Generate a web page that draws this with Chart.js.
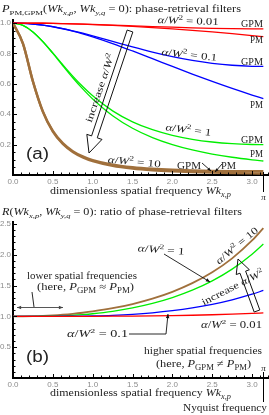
<!DOCTYPE html>
<html>
<head>
<meta charset="utf-8">
<script src="https://cdn.jsdelivr.net/npm/chart.js@4.4.1/dist/chart.umd.min.js"></script>
<style>
html, body { margin: 0; padding: 0; background: #fff; }
#wrap { position: relative; width: 269px; height: 415px; }
#wrap canvas { position: absolute; left: 0; top: 0; }
</style>
</head>
<body>
<div id="wrap">
  <canvas id="chartA" width="269" height="415"></canvas>
  <canvas id="chartB" width="269" height="415"></canvas>
</div>
<script>
// dimensionless spatial frequency W k_x,p (last sample = pi, Nyquist)
const freq = [0, 0.125, 0.25, 0.375, 0.5, 0.625, 0.75, 0.875, 1.0, 1.25, 1.5, 1.75, 2.0, 2.25, 2.5, 2.75, 3.0, 3.1416];

// panel (a): filters
const pm001  = [1, 0.9998, 0.9994, 0.9986, 0.9975, 0.9961, 0.9944, 0.9924, 0.9901, 0.9846, 0.9780, 0.9703, 0.9615, 0.9518, 0.9412, 0.9297, 0.9174, 0.9102];
const gpm001 = [1, 0.9998, 0.9994, 0.9986, 0.9976, 0.9962, 0.9947, 0.9929, 0.9909, 0.9865, 0.9818, 0.9770, 0.9725, 0.9685, 0.9652, 0.9629, 0.9617, 0.9615];
const pm01   = [1, 0.9984, 0.9938, 0.9861, 0.9756, 0.9624, 0.9467, 0.9289, 0.9091, 0.8649, 0.8163, 0.7656, 0.7143, 0.6639, 0.6154, 0.5694, 0.5263, 0.5033];
const gpm01  = [1, 0.9984, 0.9938, 0.9863, 0.9761, 0.9636, 0.9491, 0.9330, 0.9158, 0.8796, 0.8433, 0.8093, 0.7793, 0.7544, 0.7352, 0.7221, 0.7153, 0.7143];
const pm1    = [1, 0.9846, 0.9412, 0.8767, 0.8000, 0.7191, 0.6400, 0.5664, 0.5000, 0.3902, 0.3077, 0.2462, 0.2000, 0.1649, 0.1379, 0.1168, 0.1000, 0.0920];
const gpm1   = [1, 0.9846, 0.9415, 0.8780, 0.8033, 0.7256, 0.6508, 0.5821, 0.5210, 0.4221, 0.3498, 0.2979, 0.2609, 0.2349, 0.2173, 0.2062, 0.2008, 0.2000];
const pm10   = [1, 0.8649, 0.6154, 0.4156, 0.2857, 0.2038, 0.1509, 0.1155, 0.0909, 0.0602, 0.0426, 0.0316, 0.0244, 0.0194, 0.0157, 0.0131, 0.0110, 0.0100];
const gpm10  = [1, 0.8650, 0.6166, 0.4184, 0.2900, 0.2092, 0.1571, 0.1222, 0.0981, 0.0681, 0.0511, 0.0407, 0.0341, 0.0298, 0.0270, 0.0253, 0.0245, 0.0244];

// panel (b): ratio GPM / PM
const ratio001 = [1, 1, 1, 1, 1.0001, 1.0001, 1.0003, 1.0005, 1.0008, 1.0019, 1.0038, 1.0069, 1.0114, 1.0175, 1.0256, 1.0358, 1.0483, 1.0564];
const ratio01  = [1, 1, 1, 1.0002, 1.0005, 1.0012, 1.0025, 1.0044, 1.0074, 1.0170, 1.0330, 1.0571, 1.0910, 1.1362, 1.1947, 1.2682, 1.3591, 1.4193];
const ratio1   = [1, 1, 1.0003, 1.0014, 1.0041, 1.0091, 1.0168, 1.0277, 1.0420, 1.0815, 1.1370, 1.2103, 1.3047, 1.4243, 1.5753, 1.7660, 2.0080, 2.1739];
const ratio10  = [1, 1.0002, 1.0020, 1.0069, 1.0150, 1.0263, 1.0406, 1.0582, 1.0791, 1.1314, 1.1999, 1.2874, 1.3982, 1.5381, 1.7151, 1.9406, 2.2304, 2.4316];

// tick labels
const xTicks  = [0, 0.5, 1.0, 1.5, 2.0, 2.5, 3.0];
const yTicksA = [0.2, 0.4, 0.6, 0.8, 1.0];
const yTicksB = [0.5, 1.0, 1.5, 2.0, 2.5];

const RED = '#ff0000', BLUE = '#0000ff', GREEN = '#00ee00', BROWN = '#a0703c';
const SERIF = '"Liberation Serif", "DejaVu Serif", serif';
const SANS = '"Liberation Sans", Arial, sans-serif';

function series(vals, color, width) {
    return {
        data: vals.map((v, i) => ({ x: freq[i], y: v })),
        borderColor: color,
        borderWidth: width,
        pointRadius: 0,
        cubicInterpolationMode: 'monotone',
        fill: false
    };
}

// mixed-style text: parts = [[text, style]], style: i italic, s sub, p sup
function rich(ctx, parts, x, y, o) {
    o = o || {};
    const size = o.size || 10;
    const segs = parts.map(p => {
        const t = p[0], st = p[1] || '';
        const small = st.includes('s') || st.includes('p');
        const font = (st.includes('i') ? 'italic ' : '') + (small ? size * 0.7 : size) + 'px ' + (o.family || SERIF);
        ctx.font = font;
        const dy = st.includes('s') ? size * 0.25 : st.includes('p') ? -size * 0.4 : 0;
        return { t, font, dy, w: ctx.measureText(t).width };
    });
    const total = segs.reduce((s, g) => s + g.w, 0);
    ctx.save();
    ctx.translate(x, y);
    if (o.rot) ctx.rotate(o.rot * Math.PI / 180);
    if (o.w) ctx.scale(o.w / total, 1);
    let cx = o.align === 'center' ? -total / 2 : o.align === 'right' ? -total : 0;
    ctx.fillStyle = o.color || '#222';
    ctx.textAlign = 'left';
    ctx.textBaseline = 'alphabetic';
    segs.forEach(g => { ctx.font = g.font; ctx.fillText(g.t, cx, g.dy); cx += g.w; });
    ctx.restore();
}

function alpha(val) {
    return [['α', 'i'], ['/'], ['W', 'i'], ['2', 'p'], [' = ' + val]];
}

function head(ctx, a, b, hs) {
    const ang = Math.atan2(b[1] - a[1], b[0] - a[0]);
    ctx.beginPath();
    ctx.moveTo(b[0], b[1]);
    ctx.lineTo(b[0] - hs * Math.cos(ang - 0.4), b[1] - hs * Math.sin(ang - 0.4));
    ctx.lineTo(b[0] - hs * Math.cos(ang + 0.4), b[1] - hs * Math.sin(ang + 0.4));
    ctx.closePath();
    ctx.fill();
}

function pointer(ctx, pts, hs, both, color) {
    ctx.save();
    ctx.strokeStyle = color || '#111';
    ctx.fillStyle = color || '#111';
    ctx.lineWidth = 0.9;
    ctx.beginPath();
    ctx.moveTo(pts[0][0], pts[0][1]);
    pts.slice(1).forEach(p => ctx.lineTo(p[0], p[1]));
    ctx.stroke();
    head(ctx, pts[pts.length - 2], pts[pts.length - 1], hs);
    if (both) head(ctx, pts[1], pts[0], hs);
    ctx.restore();
}

function hollowArrow(ctx, tx, ty, hx, hy, sw, hw, hl) {
    const L = Math.hypot(hx - tx, hy - ty), ux = (hx - tx) / L, uy = (hy - ty) / L;
    const nx = -uy, ny = ux, bx = hx - ux * hl, by = hy - uy * hl;
    ctx.save();
    ctx.beginPath();
    ctx.moveTo(tx + nx * sw, ty + ny * sw);
    ctx.lineTo(bx + nx * sw, by + ny * sw);
    ctx.lineTo(bx + nx * hw, by + ny * hw);
    ctx.lineTo(hx, hy);
    ctx.lineTo(bx - nx * hw, by - ny * hw);
    ctx.lineTo(bx - nx * sw, by - ny * sw);
    ctx.lineTo(tx - nx * sw, ty - ny * sw);
    ctx.closePath();
    ctx.lineWidth = 1;
    ctx.strokeStyle = '#111';
    ctx.stroke();
    ctx.restore();
}

// small inward ticks like the original plot
function minorTicks(c, xStep, xMajor, yStep, yMajor) {
    const ctx = c.ctx, xs = c.scales.x, ys = c.scales.y, a = c.chartArea;
    const isMajor = (v, m) => Math.abs(v / m - Math.round(v / m)) < 1e-6;
    ctx.save();
    ctx.strokeStyle = '#000';
    ctx.lineWidth = 1;
    ctx.beginPath();
    for (let i = 1; i * xStep <= xs.max + 1e-9; i++) {
        const v = i * xStep, px = Math.round(xs.getPixelForValue(v)) + 0.5;
        const len = isMajor(v, xMajor) ? 4 : 2.5;
        ctx.moveTo(px, a.bottom);
        ctx.lineTo(px, a.bottom - len);
    }
    for (let i = 1; i * yStep <= ys.max + 1e-9; i++) {
        const v = i * yStep, py = Math.round(ys.getPixelForValue(v)) + 0.5;
        const len = isMajor(v, yMajor) ? 4 : 2.5;
        ctx.moveTo(a.left, py);
        ctx.lineTo(a.left + len, py);
    }
    ctx.stroke();
    ctx.restore();
}

function options(yMax, yTicks, padTop, padBottom, xHeight) {
    const tickFont = { family: SANS, size: 8 };
    return {
        responsive: false,
        animation: false,
        layout: { padding: { top: padTop, bottom: padBottom, left: 0, right: 1 } },
        plugins: { legend: { display: false }, tooltip: { enabled: false } },
        scales: {
            x: {
                type: 'linear', min: 0, max: 3.2,
                grid: { display: false, drawTicks: false },
                border: { color: '#000', width: 2 },
                ticks: { padding: 2, color: '#8c8c8c', font: tickFont, maxRotation: 0, autoSkip: false,
                         callback: v => v.toFixed(1) },
                afterBuildTicks: s => { s.ticks = xTicks.map(v => ({ value: v })); },
                afterFit: s => { s.height = xHeight; }
            },
            y: {
                type: 'linear', min: 0, max: yMax,
                grid: { display: false, drawTicks: false },
                border: { color: '#000', width: 2 },
                ticks: { padding: 2, color: '#8c8c8c', font: tickFont, callback: v => v.toFixed(1) },
                afterBuildTicks: s => { s.ticks = yTicks.map(v => ({ value: v })); },
                afterFit: s => { s.width = 13; }
            }
        }
    };
}

const axisTitle = [['dimensionless spatial frequency '], ['Wk', 'i'], ['x,p', 'si']];

// ---------- panel (a) ----------
const decoA = {
    id: 'decoA',
    afterDraw(c) {
        const ctx = c.ctx, xs = c.scales.x, a = c.chartArea;
        minorTicks(c, 0.1, 0.5, 0.05, 0.2);
        rich(ctx, [['P', 'i'], ['PM,GPM', 's'], ['('], ['Wk', 'i'], ['x,p', 'si'], [', '], ['Wk', 'i'], ['y,q', 'si'],
                   [' = 0): phase-retrieval filters']], 2, 12, { size: 10, w: 239 });

        rich(ctx, alpha('0.01'), 188, 24, { align: 'center', w: 61, rot: 2 });
        rich(ctx, [['GPM']], 263, 27, { align: 'right', size: 10.5, w: 22 });
        rich(ctx, [['PM']], 263, 43, { align: 'right', size: 10.5, w: 13 });
        rich(ctx, alpha('0.1'), 189, 58, { align: 'center', w: 56, rot: 6 });
        rich(ctx, [['GPM']], 263, 65, { align: 'right', size: 10.5, w: 22 });
        rich(ctx, [['PM']], 263, 108, { align: 'right', size: 10.5, w: 13 });
        rich(ctx, alpha('1'), 188, 133, { align: 'center', w: 46, rot: 7 });
        rich(ctx, [['GPM']], 263, 143, { align: 'right', size: 10.5, w: 22 });
        rich(ctx, [['PM']], 263, 157, { align: 'right', size: 10.5, w: 13 });
        rich(ctx, alpha('10'), 134, 165, { align: 'center', w: 53, rot: 5 });
        rich(ctx, [['GPM']], 177, 169, { size: 10.5, w: 24 });
        rich(ctx, [['PM']], 221, 169, { size: 10.5, w: 15 });
        pointer(ctx, [[202, 163], [211, 171]], 4);
        pointer(ctx, [[222, 164], [215, 172]], 4);

        hollowArrow(ctx, 130, 31, 89, 153, 3, 8, 17);
        rich(ctx, [['increase '], ['α', 'i'], ['/'], ['W', 'i'], ['2', 'p']], 103, 89, { align: 'center', w: 72, rot: -71.4 });

        rich(ctx, [['(a)']], 26, 159, { family: SANS, size: 16, w: 23 });

        const px = Math.round(xs.getPixelForValue(Math.PI)) + 0.5;
        ctx.save();
        ctx.strokeStyle = '#000';
        ctx.lineWidth = 1;
        ctx.beginPath();
        ctx.moveTo(px, a.bottom - 3);
        ctx.lineTo(px, a.bottom + 17);
        ctx.stroke();
        ctx.restore();
        rich(ctx, [['π', 'i']], px, 200, { align: 'center', size: 9 });

        rich(ctx, axisTitle, 50, 194, { size: 10.5, w: 181 });
    }
};

new Chart(document.getElementById('chartA'), {
    type: 'line',
    data: {
        datasets: [
            series(gpm001, RED, 1.3), series(pm001, RED, 1.3),
            series(gpm01, BLUE, 1.3), series(pm01, BLUE, 1.3),
            series(gpm1, GREEN, 1.3), series(pm1, GREEN, 1.3),
            series(gpm10, BROWN, 2.4), series(pm10, BROWN, 2.4)
        ]
    },
    options: options(1.02, yTicksA, 20, 208, 32),
    plugins: [decoA]
});

// ---------- panel (b) ----------
const decoB = {
    id: 'decoB',
    afterDraw(c) {
        const ctx = c.ctx, xs = c.scales.x;
        minorTicks(c, 0.1, 0.5, 0.1, 0.5);
        rich(ctx, [['R', 'i'], ['('], ['Wk', 'i'], ['x,p', 'si'], [', '], ['Wk', 'i'], ['y,q', 'si'],
                   [' = 0): ratio of phase-retrieval filters']], 2, 215, { size: 10, w: 240 });

        rich(ctx, alpha('1'), 161, 253, { align: 'center', w: 47, rot: 4 });
        pointer(ctx, [[164, 254], [210, 282]], 4.5);
        rich(ctx, alpha('10'), 239, 248, { align: 'center', w: 52, rot: -40 });

        hollowArrow(ctx, 257, 311, 238, 259, 3, 7, 14);
        rich(ctx, [['increase '], ['α', 'i'], ['/'], ['W', 'i'], ['2', 'p']], 234, 290, { align: 'center', w: 68, rot: -27 });

        rich(ctx, [['lower spatial frequencies']], 27, 279, { size: 10.5, w: 110 });
        rich(ctx, [['(here, '], ['P', 'i'], ['GPM', 's'], [' ≈ '], ['P', 'i'], ['PM', 's'], [')']], 37, 290, { size: 10.5, w: 97 });
        ctx.save();
        ctx.strokeStyle = '#111';
        ctx.lineWidth = 0.9;
        ctx.beginPath();
        ctx.moveTo(32, 292);
        ctx.lineTo(34, 307);
        ctx.stroke();
        ctx.restore();
        pointer(ctx, [[17, 307.5], [63, 307.5]], 4.5, true, '#444');

        rich(ctx, alpha('0.1'), 67, 337, { w: 61 });
        pointer(ctx, [[129, 334], [166, 334], [168, 314]], 4.5);
        rich(ctx, alpha('0.01'), 201, 328, { w: 61 });

        rich(ctx, [['higher spatial frequencies']], 144, 354, { size: 10.5, w: 118 });
        rich(ctx, [['(here, '], ['P', 'i'], ['GPM', 's'], [' ≠ '], ['P', 'i'], ['PM', 's'], [')']], 156, 367, { size: 10.5, w: 95 });

        rich(ctx, [['(b)']], 26, 362, { family: SANS, size: 16, w: 23 });

        const px = Math.round(xs.getPixelForValue(Math.PI)) + 0.5;
        rich(ctx, [['π', 'i']], px, 371, { align: 'center', size: 9 });
        ctx.save();
        ctx.strokeStyle = '#000';
        ctx.lineWidth = 1;
        ctx.beginPath();
        ctx.moveTo(px, 372);
        ctx.lineTo(px, 402);
        ctx.stroke();
        ctx.restore();
        rich(ctx, [['Nyquist frequency']], 267, 411, { align: 'right', size: 10.5, w: 84 });

        rich(ctx, axisTitle, 50, 396, { size: 10.5, w: 181 });
    }
};

new Chart(document.getElementById('chartB'), {
    type: 'line',
    data: {
        datasets: [
            series(ratio001, RED, 1.3),
            series(ratio01, BLUE, 1.3),
            series(ratio1, GREEN, 1.3),
            series(ratio10, BROWN, 1.8)
        ]
    },
    options: options(2.53, yTicksB, 222, 0, 37),
    plugins: [decoB]
});
</script>
</body>
</html>
